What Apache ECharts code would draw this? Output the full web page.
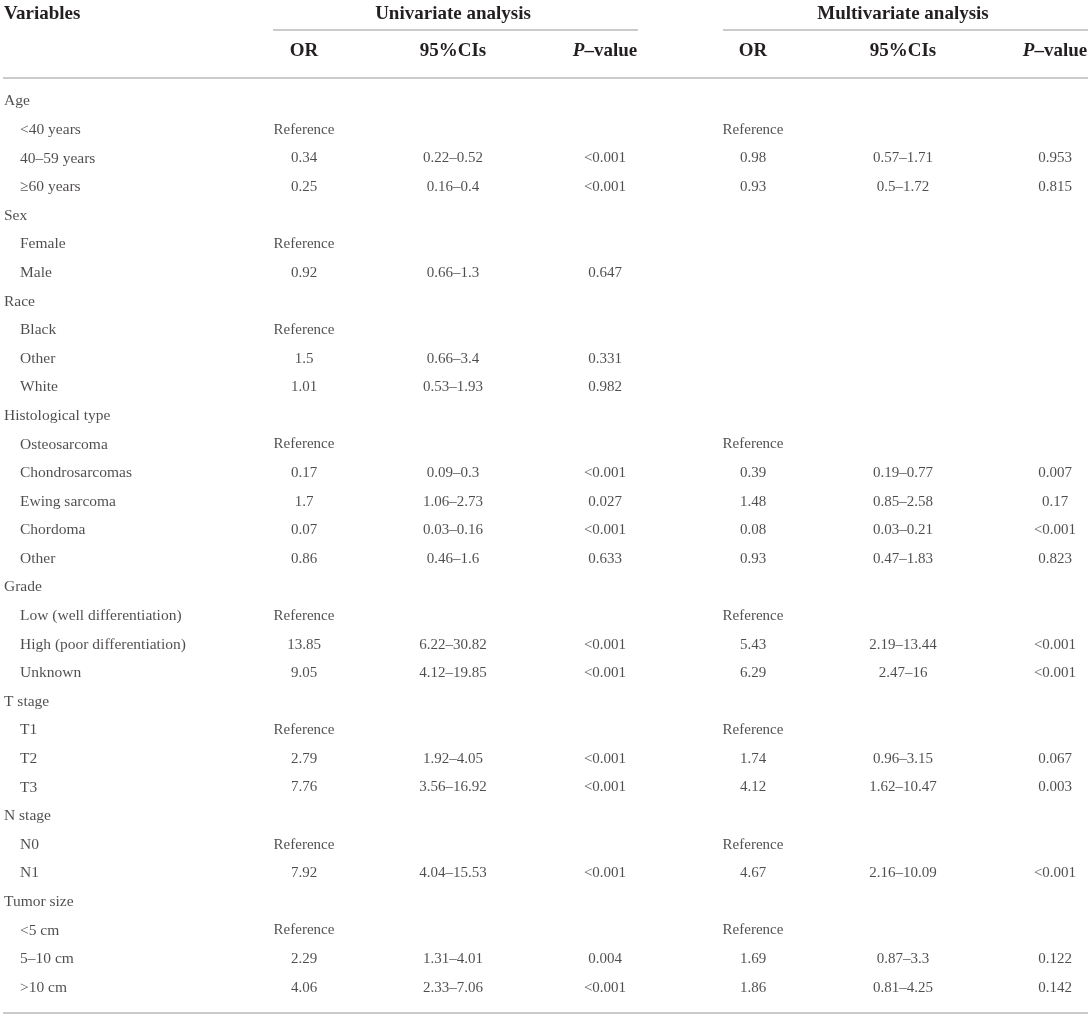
<!DOCTYPE html>
<html>
<head>
<meta charset="utf-8">
<script src="https://cdn.jsdelivr.net/npm/echarts@6/dist/echarts.min.js"></script>
<style>
  html, body { margin: 0; padding: 0; background: #fff; }
  #table_chart { width: 1091px; height: 1019px; }
</style>
</head>
<body>
<div id="table_chart"></div>
<script>
// rows of the table (group rows have no values)
var variables = ['Age', '<40 years', '40–59 years', '≥60 years',
    'Sex', 'Female', 'Male',
    'Race', 'Black', 'Other', 'White',
    'Histological type', 'Osteosarcoma', 'Chondrosarcomas', 'Ewing sarcoma', 'Chordoma', 'Other',
    'Grade', 'Low (well differentiation)', 'High (poor differentiation)', 'Unknown',
    'T stage', 'T1', 'T2', 'T3',
    'N stage', 'N0', 'N1',
    'Tumor size', '<5 cm', '5–10 cm', '>10 cm'];
var groupRows = ['Age', 'Sex', 'Race', 'Histological type', 'Grade', 'T stage', 'N stage', 'Tumor size'];

var uniOR = ['', 'Reference', '0.34', '0.25',
    '', 'Reference', '0.92',
    '', 'Reference', '1.5', '1.01',
    '', 'Reference', '0.17', '1.7', '0.07', '0.86',
    '', 'Reference', '13.85', '9.05',
    '', 'Reference', '2.79', '7.76',
    '', 'Reference', '7.92',
    '', 'Reference', '2.29', '4.06'];
var uniCI = ['', '', '0.22–0.52', '0.16–0.4',
    '', '', '0.66–1.3',
    '', '', '0.66–3.4', '0.53–1.93',
    '', '', '0.09–0.3', '1.06–2.73', '0.03–0.16', '0.46–1.6',
    '', '', '6.22–30.82', '4.12–19.85',
    '', '', '1.92–4.05', '3.56–16.92',
    '', '', '4.04–15.53',
    '', '', '1.31–4.01', '2.33–7.06'];
var uniP = ['', '', '<0.001', '<0.001',
    '', '', '0.647',
    '', '', '0.331', '0.982',
    '', '', '<0.001', '0.027', '<0.001', '0.633',
    '', '', '<0.001', '<0.001',
    '', '', '<0.001', '<0.001',
    '', '', '<0.001',
    '', '', '0.004', '<0.001'];
var multiOR = ['', 'Reference', '0.98', '0.93',
    '', '', '',
    '', '', '', '',
    '', 'Reference', '0.39', '1.48', '0.08', '0.93',
    '', 'Reference', '5.43', '6.29',
    '', 'Reference', '1.74', '4.12',
    '', 'Reference', '4.67',
    '', 'Reference', '1.69', '1.86'];
var multiCI = ['', '', '0.57–1.71', '0.5–1.72',
    '', '', '',
    '', '', '', '',
    '', '', '0.19–0.77', '0.85–2.58', '0.03–0.21', '0.47–1.83',
    '', '', '2.19–13.44', '2.47–16',
    '', '', '0.96–3.15', '1.62–10.47',
    '', '', '2.16–10.09',
    '', '', '0.87–3.3', '0.81–4.25'];
var multiP = ['', '', '0.953', '0.815',
    '', '', '',
    '', '', '', '',
    '', '', '0.007', '0.17', '<0.001', '0.823',
    '', '', '<0.001', '<0.001',
    '', '', '0.067', '0.003',
    '', '', '<0.001',
    '', '', '0.122', '0.142'];

var columnHeaders = ['OR', '95%CIs', 'P-value', 'OR', '95%CIs', 'P-value'];

// layout
var W = 1091;
var colX = [304, 453, 605, 753, 903, 1055];
var textColor = '#231f20';
var ruleColor = '#cbcbcb';
var font = '"Liberation Serif", "DejaVu Serif", serif';

var chart = echarts.init(document.getElementById('table_chart'));

function cellSeries(values, x) {
    var data = [];
    values.forEach(function (v, i) {
        if (v) data.push([x, i, v]);
    });
    return {
        type: 'scatter',
        symbolSize: 0,
        silent: true,
        data: data,
        label: {
            show: true,
            position: 'inside',
            formatter: function (p) { return p.value[2]; },
            color: textColor,
            fontFamily: font,
            fontSize: 15
        }
    };
}

function nameSeries(isGroup, x) {
    var data = [];
    variables.forEach(function (v, i) {
        var g = groupRows.indexOf(v) >= 0;
        if (g === isGroup) data.push([x, i, v]);
    });
    return {
        type: 'scatter',
        symbolSize: 0,
        silent: true,
        data: data,
        label: {
            show: true,
            position: 'right',
            distance: 0,
            formatter: function (p) { return p.value[2]; },
            color: textColor,
            fontFamily: font,
            fontSize: 15.5
        }
    };
}

function headerText(text, x, y, align) {
    var parts = text.split('-');
    var rich = {
        i: { fontStyle: 'italic', fontWeight: 'bold', fontSize: 19, fontFamily: font, fill: textColor },
        b: { fontWeight: 'bold', fontSize: 19, fontFamily: font, fill: textColor }
    };
    var t = parts.length > 1 ? '{i|' + parts[0] + '}{b|–' + parts[1] + '}' : '{b|' + text + '}';
    return {
        type: 'text', x: x, y: y, silent: true,
        style: { text: t, rich: rich, align: align || 'center', verticalAlign: 'middle' }
    };
}

function rule(x1, x2, y) {
    return {
        type: 'line', silent: true,
        shape: { x1: x1, y1: y, x2: x2, y2: y },
        style: { stroke: ruleColor, lineWidth: 2 }
    };
}

var graphics = [
    headerText('Variables', 4, 14, 'left'),
    headerText('Univariate analysis', colX[1], 14),
    headerText('Multivariate analysis', colX[4], 14),
    rule(273, 638, 30),
    rule(723, 1088, 30),
    rule(3, 1088, 78),
    rule(3, 1088, 1013)
];
columnHeaders.forEach(function (h, i) {
    graphics.push(headerText(h, colX[i], 51));
});

var option = {
    animation: false,
    backgroundColor: '#fff',
    grid: { left: 0, right: 0, top: 87, bottom: 17 },
    xAxis: { type: 'value', min: 0, max: W, show: false },
    yAxis: { type: 'category', data: variables, inverse: true, show: false },
    series: [
        nameSeries(true, 4),
        nameSeries(false, 20),
        cellSeries(uniOR, colX[0]),
        cellSeries(uniCI, colX[1]),
        cellSeries(uniP, colX[2]),
        cellSeries(multiOR, colX[3]),
        cellSeries(multiCI, colX[4]),
        cellSeries(multiP, colX[5])
    ],
    graphic: graphics
};

chart.setOption(option);
</script>
</body>
</html>
